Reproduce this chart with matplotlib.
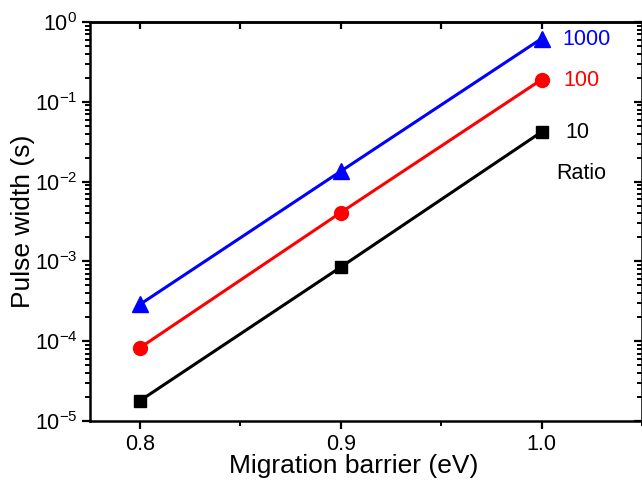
import matplotlib
matplotlib.use("Agg")
import matplotlib.pyplot as plt
from matplotlib.ticker import LogLocator, NullFormatter, MultipleLocator

plt.rcParams['font.family'] = ['Liberation Sans', 'DejaVu Sans']
plt.rcParams['mathtext.fontset'] = 'custom'
plt.rcParams['mathtext.rm'] = 'Liberation Sans'
plt.rcParams['mathtext.default'] = 'regular'

barrier = [0.8, 0.9, 1.0]
ratio_10 = [1.8e-5, 8.5e-4, 0.042]
ratio_100 = [8.3e-5, 4.1e-3, 0.19]
ratio_1000 = [2.9e-4, 1.35e-2, 0.62]

fig = plt.figure(figsize=(6.42, 4.86), dpi=100)
ax = fig.add_axes([0.140, 0.1337, 0.860, 0.821])

ax.plot(barrier, ratio_10, color='black', lw=2.2, marker='s', ms=9)
ax.plot(barrier, ratio_100, color='red', lw=2.2, marker='o', ms=10)
ax.plot(barrier, ratio_1000, color='blue', lw=2.2, marker='^', ms=11)

ax.set_yscale('log')
ax.set_xlim(0.775, 1.05)
ax.set_ylim(1e-5, 1)
ax.set_xticks([0.8, 0.9, 1.0])
ax.set_xticklabels(["0.8", "0.9", "1.0"])
ax.xaxis.set_minor_locator(MultipleLocator(0.05))
ax.yaxis.set_major_locator(LogLocator(base=10, numticks=10))
ax.yaxis.set_minor_locator(LogLocator(base=10, subs=range(2, 10), numticks=20))
ax.yaxis.set_minor_formatter(NullFormatter())

for s in ax.spines.values():
    s.set_linewidth(1.8)

ax.tick_params(axis='both', which='major', labelsize=15.5, width=1.6, length=6, pad=3)
ax.tick_params(axis='both', which='minor', width=1.4, length=3.5)
ax.tick_params(axis='x', which='both', direction='out', top=False)
ax.tick_params(axis='y', which='both', direction='out', right=False)

secx = ax.secondary_xaxis('top')
secx.set_xticks([0.8, 0.85, 0.9, 0.95, 1.0])
secx.tick_params(direction='in', length=5, width=1.6, labeltop=False)
secx.set_xticklabels([])
secx.spines['top'].set_linewidth(1.8)

secy = ax.secondary_yaxis('right')
secy.yaxis.set_major_locator(LogLocator(base=10, numticks=10))
secy.yaxis.set_minor_locator(LogLocator(base=10, subs=range(2, 10), numticks=20))
secy.yaxis.set_major_formatter(NullFormatter())
secy.yaxis.set_minor_formatter(NullFormatter())
secy.tick_params(which='major', direction='in', length=6, width=1.6)
secy.tick_params(which='minor', direction='in', length=3.5, width=1.4)

ax.set_xlabel("Migration barrier (eV)", fontsize=19)
ax.set_ylabel("Pulse width (s)", fontsize=19)
ax.xaxis.set_label_coords(0.478, -0.083)
ax.yaxis.set_label_coords(-0.10, 0.50)

ax.text(1.0104, 0.65, "1000", color='blue', fontsize=15.5, va='center_baseline', ha='left')
ax.text(1.011, 0.199, "100", color='red', fontsize=15.5, va='center_baseline', ha='left')
ax.text(1.012, 0.0444, "10", color='black', fontsize=15.5, va='center_baseline', ha='left')
ax.text(1.0075, 0.0136, "Ratio", color='black', fontsize=15.5, va='center_baseline', ha='left')

fig.savefig("out.png", dpi=100)
